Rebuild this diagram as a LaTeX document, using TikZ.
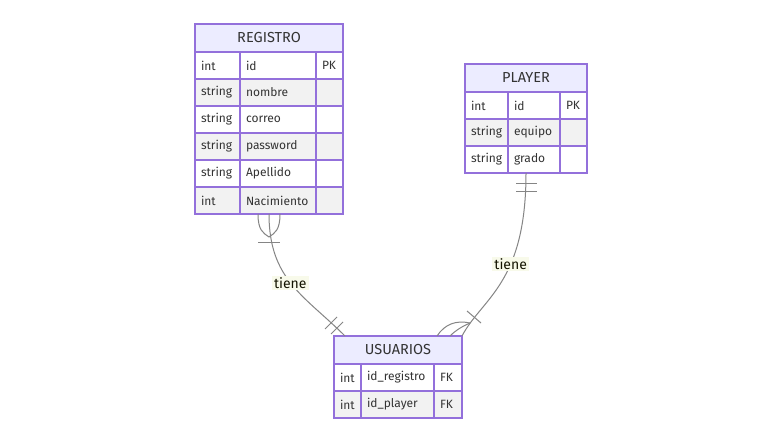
\documentclass[tikz,border=0pt]{standalone}
\usepackage{fontspec}
\setmainfont{Fira Sans}
\usetikzlibrary{calc,fit}
\definecolor{entborder}{HTML}{9370DB}
\definecolor{enthead}{HTML}{ECECFF}
\definecolor{roweven}{HTML}{F2F2F2}
\definecolor{txt}{HTML}{333333}
\definecolor{edgeline}{HTML}{858585}
\definecolor{lbltext}{HTML}{131300}
\definecolor{lblfill}{HTML}{F8FAEA}
\newcommand{\headfont}{\fontsize{14.5}{16}\selectfont}
\newcommand{\rowfont}{\fontsize{12}{14}\selectfont}
\newcommand{\lblfont}{\fontsize{14}{16}\selectfont}

\begin{document}
\begin{tikzpicture}[x=1pt,y=-1pt]
    \tikzstyle{head} = [draw=entborder, fill=enthead, line width=1.2pt, anchor=north west, minimum height=28pt, inner sep=0pt, outer sep=0pt, font=\headfont, text=txt]
    \tikzstyle{cell} = [draw=entborder, line width=1.2pt, anchor=north west, minimum height=27pt, inner xsep=6pt, inner ysep=0pt, outer sep=0pt, align=left, font=\rowfont, text=txt]
    \tikzstyle{relline} = [draw=edgeline, line width=1pt]
    \tikzstyle{rellabel} = [fill=lblfill, text=lbltext, font=\lblfont, inner xsep=2pt, inner ysep=1.5pt]
    \fill[white] (0,0) rectangle (783,443);
    \useasboundingbox (0,0) rectangle (783,443);

    % REGISTRO
    \node[head, minimum width=148pt] (reg-h) at (195,24) {REGISTRO};
    \foreach \ty/\nm/\ky/\fl [count=\i] in {int/id/PK/white, string/nombre//roweven, string/correo//white, string/password//roweven, string/Apellido//white, int/Nacimiento//roweven} {
        \node[cell, text width=33pt, fill=\fl] (reg-t\i) at ($(reg-h.south west)+(0,{27*(\i-1)})$) {\rlap{\ty}};
        \node[cell, text width=64pt, fill=\fl] (reg-n\i) at (reg-t\i.north east) {\rlap{\nm}};
        \node[cell, text width=15pt, fill=\fl] (reg-k\i) at (reg-n\i.north east) {\rlap{\ky}};
    }
    \node[fit=(reg-h)(reg-k6), inner sep=0pt, outer sep=0pt] (reg) {};

    % PLAYER
    \node[head, minimum width=122pt] (ply-h) at (465,64) {PLAYER};
    \foreach \ty/\nm/\ky/\fl [count=\i] in {int/id/PK/white, string/equipo//roweven, string/grado//white} {
        \node[cell, text width=31pt, fill=\fl] (ply-t\i) at ($(ply-h.south west)+(0,{27*(\i-1)})$) {\rlap{\ty}};
        \node[cell, text width=40pt, fill=\fl] (ply-n\i) at (ply-t\i.north east) {\rlap{\nm}};
        \node[cell, text width=15pt, fill=\fl] (ply-k\i) at (ply-n\i.north east) {\rlap{\ky}};
    }
    \node[fit=(ply-h)(ply-k3), inner sep=0pt, outer sep=0pt] (ply) {};

    % USUARIOS
    \node[head, minimum width=128pt] (usu-h) at (334,336) {USUARIOS};
    \foreach \ty/\nm/\ky/\fl [count=\i] in {int/id\_registro/FK/white, int/id\_player/FK/roweven} {
        \node[cell, text width=15pt, fill=\fl] (usu-t\i) at ($(usu-h.south west)+(0,{27*(\i-1)})$) {\rlap{\ty}};
        \node[cell, text width=61pt, fill=\fl] (usu-n\i) at (usu-t\i.north east) {\rlap{\nm}};
        \node[cell, text width=16pt, fill=\fl] (usu-k\i) at (usu-n\i.north east) {\rlap{\ky}};
    }
    \node[fit=(usu-h)(usu-k2), inner sep=0pt, outer sep=0pt] (usu) {};
    \coordinate (usu-a) at ($(usu.north west)+(11,0)$);
    \coordinate (usu-b) at (usu.north east);

    % REGISTRO -- USUARIOS
    \draw[relline] (reg.south) .. controls +(0,66) and +(-40,-40) .. (usu-a) node[rellabel, pos=0.48] {tiene};
    \draw[relline] ($(reg.south)+(-11,0)$) .. controls +(0,16) and +(-6,-4) .. ($(reg.south)+(0,23)$);
    \draw[relline] ($(reg.south)+(11,0)$) .. controls +(0,16) and +(6,-4) .. ($(reg.south)+(0,23)$);
    \draw[relline] ($(reg.south)+(-11,29)$) -- +(22,0);
    \draw[relline] ($(usu-a)+(-20,-7)$) -- ($(usu-a)+(-8,-19)$);
    \draw[relline] ($(usu-a)+(-14,-2)$) -- ($(usu-a)+(-2,-14)$);

    % PLAYER -- USUARIOS
    \draw[relline] (ply.south) .. controls +(0,111) and +(20,-38) .. (usu-b) node[rellabel, pos=0.38] {tiene};
    \draw[relline] ($(ply.south)+(-10,11)$) -- +(21,0);
    \draw[relline] ($(ply.south)+(-10,19)$) -- +(21,0);
    \draw[relline] ($(usu-b)+(-25,0)$) .. controls +(8,-12) and +(-14,-3) .. ($(usu-b)+(8,-13)$);
    \draw[relline] ($(usu-b)+(-12,0)$) .. controls +(6,-6) and +(-7,3) .. ($(usu-b)+(8,-13)$);
    \draw[relline] ($(usu-b)+(5,-25)$) -- ($(usu-b)+(19,-13)$);
\end{tikzpicture}
\end{document}
